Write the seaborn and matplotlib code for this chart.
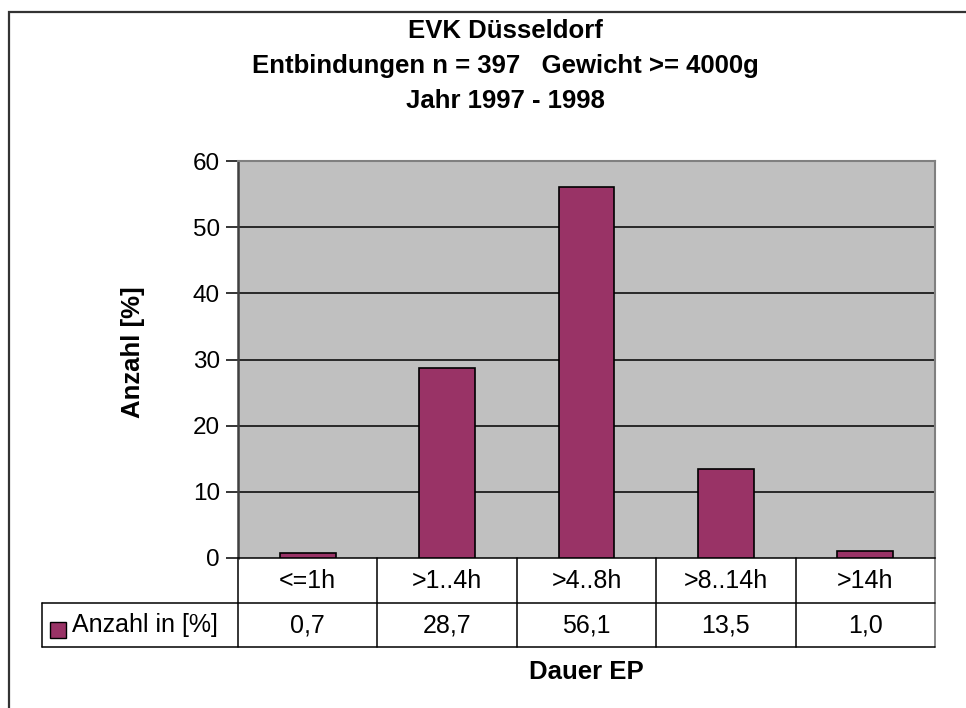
import matplotlib
matplotlib.use("Agg")
import matplotlib.pyplot as plt
import matplotlib.transforms as mtransforms
from matplotlib.patches import Rectangle
import seaborn as sns
import pandas as pd

# ---- data ----
categories = ["<=1h", ">1..4h", ">4..8h", ">8..14h", ">14h"]
values = [0.7, 28.7, 56.1, 13.5, 1.0]
series_name = "Anzahl in [%]"
yticks = [0, 10, 20, 30, 40, 50, 60]
title_lines = ["EVK Düsseldorf", "Entbindungen n = 397   Gewicht >= 4000g", "Jahr 1997 - 1998"]
xlabel = "Dauer EP"
ylabel = "Anzahl [%]"

sns.set_theme(style="white")
plt.rcParams["font.family"] = ["Liberation Sans", "DejaVu Sans"]
plt.rcParams["text.color"] = "black"
plt.rcParams["axes.labelcolor"] = "black"
plt.rcParams["ytick.color"] = "black"
plt.rcParams["xtick.color"] = "black"

W, H = 966, 708
fig = plt.figure(figsize=(W / 100, H / 100), dpi=100)
fig.patch.set_facecolor("white")

def fx(px):
    return px / W

def fy(py):
    return 1 - py / H

FS = 18
FS_TITLE = 18.5

# plot area in pixels
L, R, T, B = 238, 935, 161, 558
ax = fig.add_axes([fx(L), fy(B), fx(R) - fx(L), fy(T) - fy(B)])

bar_color = "#993366"
df = pd.DataFrame({"cat": categories, "val": values})
sns.barplot(data=df, x="cat", y="val", color=bar_color, edgecolor="black",
            linewidth=1.2, width=0.4, saturation=1, ax=ax, zorder=3)

ax.set_facecolor("#c0c0c0")
ax.set_xlim(-0.5, len(categories) - 0.5)
ax.set_ylim(0, 60)
ax.set_yticks(yticks)
ax.set_yticklabels([str(t) for t in yticks], fontsize=17.5, color="black")
ax.set_xticks([])
ax.set_xlabel("")
ax.set_ylabel("")
for t in yticks[1:]:
    ax.axhline(t, color="black", linewidth=1.1, zorder=1)
ax.tick_params(axis="y", which="both", left=True, length=9, width=1.1,
               color="black", pad=4, direction="out")
for side in ["top", "right", "bottom"]:
    ax.spines[side].set_color("#808080")
    ax.spines[side].set_linewidth(1.5)
ax.spines["left"].set_color("#404040")
ax.spines["left"].set_linewidth(1.8)
ax.spines["bottom"].set_color("black")
ax.spines["bottom"].set_linewidth(1.1)

# ---- data table below the plot ----
row1_top, row1_bot, row2_bot = 558, 603, 647
leg_left = 42
lc = dict(color="black", linewidth=1.1, clip_on=False)
trans_x = mtransforms.blended_transform_factory(ax.transData, fig.transFigure)
n = len(categories)
fig.add_artist(plt.Line2D([fx(leg_left), fx(R)], [fy(row1_bot)] * 2, **lc))
fig.add_artist(plt.Line2D([fx(leg_left), fx(R)], [fy(row2_bot)] * 2, **lc))
for i in range(n + 1):
    xv = i - 0.5
    col = "#808080" if i == n else "black"
    ax.plot([xv, xv], [fy(row1_top), fy(row2_bot)], transform=trans_x,
            color=col, linewidth=1.3 if i == n else 1.1, clip_on=False)
fig.add_artist(plt.Line2D([fx(leg_left)] * 2, [fy(row1_bot), fy(row2_bot)], **lc))

for i, (c, v) in enumerate(zip(categories, values)):
    ax.text(i, fy((row1_top + row1_bot) / 2), c, transform=trans_x,
            ha="center", va="center", fontsize=FS)
    ax.text(i, fy((row1_bot + row2_bot) / 2), f"{v:.1f}".replace(".", ","),
            transform=trans_x, ha="center", va="center", fontsize=FS)

# legend key in the table
fig.add_artist(Rectangle((fx(50), fy(638)), fx(16), 16 / H,
                         facecolor=bar_color, edgecolor="black", linewidth=1.0,
                         transform=fig.transFigure))
fig.text(fx(72), fy((row1_bot + row2_bot) / 2), series_name,
         ha="left", va="center", fontsize=FS)

# ---- titles ----
for k, line in enumerate(title_lines):
    fig.text(fx(505), fy(31 + 35 * k), line, ha="center", va="center",
             fontsize=FS_TITLE, fontweight="bold")
fig.text(fx((L + R) / 2), fy(672), xlabel, ha="center", va="center",
         fontsize=FS_TITLE, fontweight="bold")
fig.text(fx(133), fy(352), ylabel, ha="center", va="center",
         rotation=90, fontsize=FS_TITLE, fontweight="bold")

# outer chart border
fig.add_artist(Rectangle((fx(9), fy(730)), fx(1000), (730 - 12) / H,
                         facecolor="none", edgecolor="#333333", linewidth=1.6,
                         transform=fig.transFigure))

fig.savefig("out.png", dpi=100, facecolor="white")
